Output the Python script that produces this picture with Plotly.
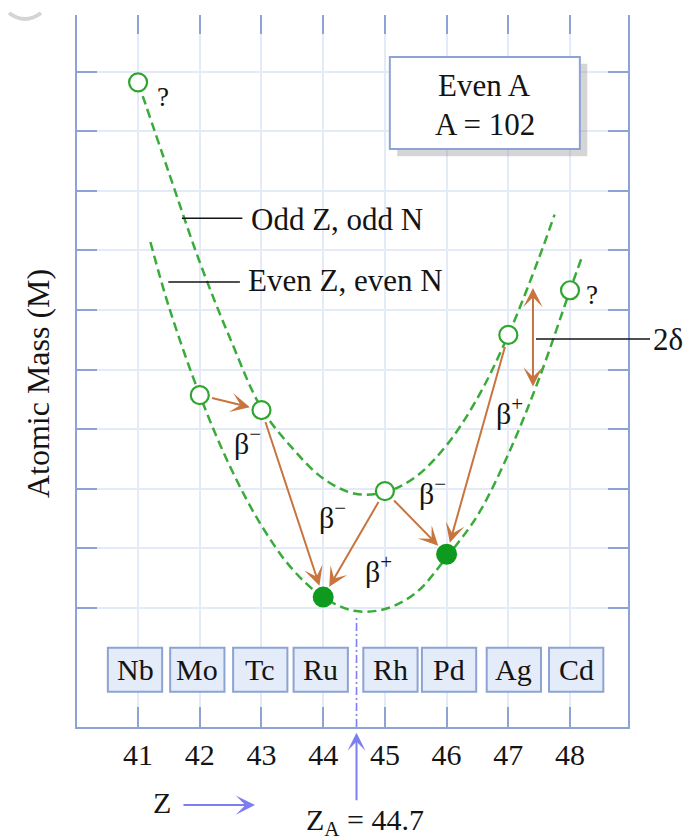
import plotly.graph_objects as go

# ---------------- data ----------------
Z_VALUES = [41, 42, 43, 44, 45, 46, 47, 48]
ELEMENTS = ["Nb", "Mo", "Tc", "Ru", "Rh", "Pd", "Ag", "Cd"]
MASS = [10.82, 5.57, 5.32, 2.18, 3.96, 2.90, 6.58, 7.33]
STABLE = [False, False, False, True, False, True, False, False]

ODD_CURVE_Z = [41.0, 41.5, 42.0, 42.5, 43.0, 43.5, 44.0, 44.5, 45.0, 45.5, 46.0, 46.5, 47.0, 47.5, 47.75]
ODD_CURVE_M = [10.82, 9.30, 7.80, 6.50, 5.35, 4.68, 4.17, 3.92, 3.94, 4.20, 4.73, 5.52, 6.58, 7.88, 8.60]
EVEN_CURVE_Z = [41.2, 41.5, 42.0, 42.5, 43.0, 43.5, 44.0, 44.5, 45.0, 45.5, 46.0, 46.5, 47.0, 47.5, 48.0, 48.18]
EVEN_CURVE_M = [8.14, 7.05, 5.57, 4.35, 3.38, 2.65, 2.18, 1.95, 1.98, 2.25, 2.85, 3.55, 4.58, 5.85, 7.33, 7.85]

DECAYS = [("Mo", "Tc"), ("Tc", "Ru"), ("Rh", "Ru"), ("Rh", "Pd"), ("Ag", "Pd")]
DECAY_LABELS = ["β<sup>−</sup>", "β<sup>−</sup>", "β<sup>+</sup>", "β<sup>−</sup>", "β<sup>+</sup>"]
Z_A = 44.7
MASS_NUMBER = 102
Y_GRID = [2, 3, 4, 5, 6, 7, 8, 9, 10, 11]

# ---------------- styles ----------------
FONT = "Liberation Serif"
AXIS_COLOR = "#8ca3d3"
GRID_COLOR = "#e3ebf8"
GREEN_DASH = "#3aab3a"
GREEN_OPEN = "#2ea52e"
GREEN_FILL = "#0e9a1f"
ORANGE = "#c8743e"
BLUE_ARROW = "#7d7df2"
TXT = "#141414"

fig = go.Figure()

fig.add_trace(go.Scatter(x=ODD_CURVE_Z, y=ODD_CURVE_M, mode="lines", line_shape="spline",
                         line=dict(color=GREEN_DASH, width=2.5, dash="9px,5px"), hoverinfo="skip"))
fig.add_trace(go.Scatter(x=EVEN_CURVE_Z, y=EVEN_CURVE_M, mode="lines", line_shape="spline",
                         line=dict(color=GREEN_DASH, width=2.5, dash="9px,5px"), hoverinfo="skip"))

open_z = [z for z, s in zip(Z_VALUES, STABLE) if not s]
open_m = [m for m, s in zip(MASS, STABLE) if not s]
fill_z = [z for z, s in zip(Z_VALUES, STABLE) if s]
fill_m = [m for m, s in zip(MASS, STABLE) if s]
fig.add_trace(go.Scatter(x=open_z, y=open_m, mode="markers",
                         marker=dict(symbol="circle", size=18, color="white",
                                     line=dict(color=GREEN_OPEN, width=2.2))))
fig.add_trace(go.Scatter(x=fill_z, y=fill_m, mode="markers",
                         marker=dict(symbol="circle", size=21, color=GREEN_FILL, line=dict(width=0))))

# invisible trace to activate the top x axis
fig.add_trace(go.Scatter(x=[Z_VALUES[0]], y=[MASS[0]], xaxis="x2", mode="markers",
                         marker=dict(opacity=0), hoverinfo="skip"))

ann = []
shapes = []

# decay arrows
idx = {e: i for i, e in enumerate(ELEMENTS)}
for (a, b) in DECAYS:
    ia, ib = idx[a], idx[b]
    ann.append(dict(x=Z_VALUES[ib], y=MASS[ib], ax=Z_VALUES[ia], ay=MASS[ia],
                    xref="x", yref="y", axref="x", ayref="y", text="",
                    showarrow=True, arrowhead=3, arrowsize=1.6, arrowwidth=2,
                    arrowcolor=ORANGE, standoff=12, startstandoff=11))

label_pos = [(42.77, 4.80), (44.15, 3.55), (44.90, 2.66), (45.77, 3.96), (47.02, 5.30)]
for (lx, ly), t in zip(label_pos, DECAY_LABELS):
    ann.append(dict(x=lx, y=ly, xref="x", yref="y", text=t, showarrow=False,
                    font=dict(family=FONT, size=30, color=TXT)))

# question marks
ann.append(dict(x=41.41, y=10.57, xref="x", yref="y", text="?", showarrow=False,
                font=dict(family=FONT, size=27, color=TXT)))
ann.append(dict(x=48.36, y=7.25, xref="x", yref="y", text="?", showarrow=False,
                font=dict(family=FONT, size=27, color=TXT)))

# 2 delta
ann.append(dict(x=47.40, y=7.37, ax=47.40, ay=5.69, xref="x", yref="y", axref="x", ayref="y",
                text="", showarrow=True, arrowhead=3, startarrowhead=3, arrowside="end+start",
                arrowsize=1.6, startarrowsize=1.6, arrowwidth=2, arrowcolor=ORANGE))
shapes.append(dict(type="line", xref="paper", yref="y", x0=0.833, x1=1.04, y0=6.51, y1=6.51,
                   line=dict(color=TXT, width=1.5)))
ann.append(dict(x=1.042, y=6.51, xref="paper", yref="y", text="2δ", showarrow=False,
                xanchor="left", yanchor="middle", font=dict(family=FONT, size=31, color=TXT)))

# curve labels
shapes.append(dict(type="line", xref="x", yref="y", x0=41.71, x1=42.69, y0=8.54, y1=8.54,
                   line=dict(color=TXT, width=1.5)))
ann.append(dict(x=42.80, y=8.52, xref="x", yref="y", text="Odd Z, odd N", showarrow=False,
                xanchor="left", font=dict(family=FONT, size=31, color=TXT)))
shapes.append(dict(type="line", xref="x", yref="y", x0=41.49, x1=42.65, y0=7.47, y1=7.47,
                   line=dict(color=TXT, width=1.5)))
ann.append(dict(x=42.75, y=7.49, xref="x", yref="y", text="Even Z, even N", showarrow=False,
                xanchor="left", font=dict(family=FONT, size=31, color=TXT)))

# info box with shadow
shapes.append(dict(type="rect", xref="x", yref="y", x0=45.20, x1=48.28, y0=9.58, y1=11.13,
                   fillcolor="rgba(150,150,150,0.40)", line=dict(width=0)))
shapes.append(dict(type="rect", xref="x", yref="y", x0=45.08, x1=48.16, y0=9.70, y1=11.245,
                   fillcolor="white", line=dict(color=AXIS_COLOR, width=2)))
ann.append(dict(x=46.62, y=10.76, xref="x", yref="y", text="Even A", showarrow=False,
                font=dict(family=FONT, size=31, color=TXT)))
ann.append(dict(x=46.62, y=10.12, xref="x", yref="y", text=f"A = {MASS_NUMBER}", showarrow=False,
                font=dict(family=FONT, size=31, color=TXT)))

# element boxes
box_offset = [-0.05, -0.04, -0.02, -0.04, 0.09, 0.04, 0.09, 0.10]
for z, el, off in zip(Z_VALUES, ELEMENTS, box_offset):
    c = z + off
    shapes.append(dict(type="rect", xref="x", yref="y", x0=c - 0.44, x1=c + 0.44, y0=0.59, y1=1.33,
                       fillcolor="#e4ecf9", line=dict(color=AXIS_COLOR, width=2)))
    ann.append(dict(x=c, y=0.96, xref="x", yref="y", text=el, showarrow=False,
                    font=dict(family=FONT, size=30, color=TXT)))

# Z_A dashed line and arrow
ZA_LINE_X = 44.54
shapes.append(dict(type="line", xref="x", yref="y", x0=ZA_LINE_X, x1=ZA_LINE_X, y0=0, y1=1.88,
                   line=dict(color=BLUE_ARROW, width=1.6, dash="8px,3px,2px,3px")))
ann.append(dict(x=ZA_LINE_X, y=-0.008, xref="x", yref="paper", ax=0, ay=69, text="",
                showarrow=True, arrowhead=3, arrowsize=1.5, arrowwidth=2, arrowcolor=BLUE_ARROW))
ann.append(dict(x=0.523, y=-0.134, xref="paper", yref="paper",
                text=f"Z<sub>A</sub> = {Z_A}", showarrow=False, xanchor="center", yanchor="middle",
                font=dict(family=FONT, size=30, color=TXT)))
# Z arrow
ann.append(dict(x=0.154, y=-0.106, xref="paper", yref="paper", text="Z", showarrow=False,
                xanchor="center", yanchor="middle",
                font=dict(family=FONT, size=30, color=TXT)))
ann.append(dict(x=0.323, y=-0.1096, xref="paper", yref="paper", ax=-73, ay=0, text="",
                showarrow=True, arrowhead=3, arrowsize=1.6, arrowwidth=2, arrowcolor=BLUE_ARROW))

# y title
ann.append(dict(x=-0.0708, y=0.483, xref="paper", yref="paper", text="Atomic Mass (M)",
                textangle=-90, showarrow=False, xanchor="center", yanchor="middle",
                font=dict(family=FONT, size=32, color=TXT)))

# faint grey arc in the top-left corner
shapes.append(dict(type="path", xref="paper", yref="paper",
                   path="M -0.1234 1.0028 Q -0.0944 0.9860 -0.0653 1.0028",
                   line=dict(color="#d4d4d4", width=4)))

fig.update_layout(
    width=684, height=840,
    margin=dict(l=77, r=56, t=15, b=113),
    paper_bgcolor="white", plot_bgcolor="white",
    showlegend=False,
    xaxis=dict(range=[40.01, 48.94], tickvals=Z_VALUES, ticktext=[str(z) for z in Z_VALUES],
               ticks="inside", ticklen=20, tickwidth=2, tickcolor=AXIS_COLOR,
               showline=True, linecolor=AXIS_COLOR, linewidth=2,
               showgrid=True, gridcolor=GRID_COLOR, gridwidth=1.5, zeroline=False,
               tickfont=dict(family=FONT, size=30, color=TXT), fixedrange=True),
    xaxis2=dict(range=[40.01, 48.94], overlaying="x", side="top", tickvals=Z_VALUES,
                ticks="inside", ticklen=19, tickwidth=2, tickcolor=AXIS_COLOR,
                showline=False, showticklabels=False, showgrid=False, zeroline=False),
    yaxis=dict(range=[0, 11.95], tickvals=Y_GRID, ticks="inside", ticklen=20, tickwidth=2,
               tickcolor=AXIS_COLOR, showline=True, linecolor=AXIS_COLOR, linewidth=2,
               mirror="ticks", showticklabels=False, showgrid=True, gridcolor=GRID_COLOR,
               gridwidth=1.5, zeroline=False, fixedrange=True),
    annotations=ann,
    shapes=shapes,
)

fig.write_html("out.html")
